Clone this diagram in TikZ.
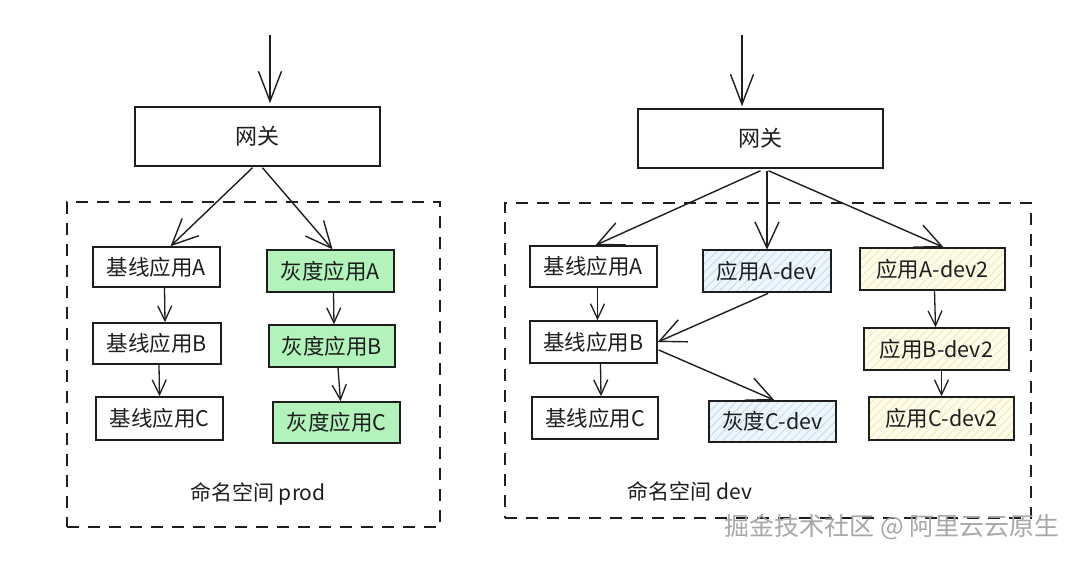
\documentclass[tikz,border=0pt]{standalone}
\usepackage{fontspec}
\setmainfont{Noto Sans CJK SC}
\usetikzlibrary{arrows.meta,patterns.meta,calc}
\definecolor{ink}{HTML}{1E1E1E}
\definecolor{greenfill}{HTML}{B2F2BB}
\definecolor{bluebg}{HTML}{EEF6FC}
\definecolor{bluehatch}{HTML}{BDDBF0}
\definecolor{yellowbg}{HTML}{FDFBEA}
\definecolor{yellowhatch}{HTML}{F1E7B4}
\definecolor{wmark}{HTML}{A8A8A8}
\tikzset{
  box/.style={draw=ink, line width=1.5pt, inner sep=0pt, font=\fontsize{21.5}{25}\selectfont, text=ink},
  greenbox/.style={box, fill=greenfill},
  bluebox/.style={box, preaction={fill=bluebg}, pattern={Lines[angle=45,distance=6pt,line width=0.8pt]}, pattern color=bluehatch},
  yellowbox/.style={box, preaction={fill=yellowbg}, pattern={Lines[angle=45,distance=6pt,line width=0.8pt]}, pattern color=yellowhatch},
  arr/.style={draw=ink, line width=1.3pt, -{Straight Barb[length=15pt,width=14pt]}},
  midarr/.style={draw=ink, line width=1.4pt, -{Straight Barb[length=26pt,width=24pt]}},
  bigarr/.style={draw=ink, line width=1.4pt, -{Straight Barb[length=30pt,width=23pt]}},
  nsframe/.style={draw=ink, line width=1.5pt, dash pattern=on 12pt off 9pt},
  nslabel/.style={font=\fontsize{21}{25}\selectfont, text=ink},
}
\begin{document}
\begin{tikzpicture}[x=1pt,y=-1pt]
\fill[white] (0,0) rectangle (1080,561);
\useasboundingbox (0,0) rectangle (1080,561);

% ---------- left: prod ----------
\node[nsframe, minimum width=373pt, minimum height=325pt, inner sep=0pt] (nsL) at (253.5,364.5) {};
\node[box, font=\fontsize{22}{26}\selectfont, minimum width=245pt, minimum height=59pt] (gwL) at (257.5,136.5) {网关};
\node[box, minimum width=127pt, minimum height=40pt] (baseAL) at (156.5,267) {基线应用A};
\node[greenbox, minimum width=127pt, minimum height=42pt] (grayAL) at (330.5,271) {灰度应用A};
\node[box, minimum width=128pt, minimum height=41pt] (baseBL) at (157,343.5) {基线应用B};
\node[greenbox, minimum width=126pt, minimum height=42pt] (grayBL) at (332,346) {灰度应用B};
\node[box, minimum width=127pt, minimum height=43pt] (baseCL) at (159.5,418.5) {基线应用C};
\node[greenbox, minimum width=127pt, minimum height=41pt] (grayCL) at (336.5,422.5) {灰度应用C};
\node[nslabel] (labL) at (258,494) {命名空间 prod};

\coordinate (inL) at (270,35);
\draw[bigarr] (inL) -- ($(inL |- gwL.north)+(0,-3)$);
\draw[midarr] ($(gwL.south)+(-5,1)$) -- ($(baseAL.north)+(14,0)$);
\draw[midarr] ($(gwL.south)+(5,1)$) -- ($(grayAL.north)+(2,0)$);
\draw[arr] ($(baseAL.south)+(8,0)$) -- ($(baseBL.north)+(8,0)$);
\draw[arr] ($(grayAL.south)+(3,0)$) -- ($(grayBL.north)+(2,0)$);
\draw[arr] ($(baseBL.south)+(2,0)$) -- ($(baseCL.north)+(0,0)$);
\draw[arr] ($(grayBL.south)+(6,0)$) -- ($(grayCL.north)+(4,0)$);

% ---------- right: dev ----------
\node[nsframe, minimum width=526pt, minimum height=315pt, inner sep=0pt] (nsR) at (768,360.5) {};
\node[box, font=\fontsize{22}{26}\selectfont, minimum width=245pt, minimum height=59pt] (gwR) at (760.5,138.5) {网关};
\node[box, minimum width=127pt, minimum height=41pt] (baseAR) at (593.5,266.5) {基线应用A};
\node[bluebox, minimum width=128pt, minimum height=42pt] (devA) at (767,271) {应用A-dev};
\node[yellowbox, minimum width=145pt, minimum height=42pt] (dtwoA) at (932.5,269) {应用A-dev2};
\node[box, minimum width=127pt, minimum height=42pt] (baseBR) at (593.5,342) {基线应用B};
\node[yellowbox, minimum width=145pt, minimum height=42pt] (dtwoB) at (936.5,349) {应用B-dev2};
\node[box, minimum width=126pt, minimum height=42pt] (baseCR) at (595,418) {基线应用C};
\node[bluebox, minimum width=127pt, minimum height=41pt] (grayCdev) at (772.5,421.5) {灰度C-dev};
\node[yellowbox, minimum width=145pt, minimum height=43pt] (dtwoC) at (941.5,418.5) {应用C-dev2};
\node[nslabel] (labR) at (690,491) {命名空间 dev};

\coordinate (inR) at (742,35);
\draw[bigarr] (inR) -- ($(inR |- gwR.north)+(0,-2)$);
\draw[midarr] ($(gwR.south)+(0,2)$) -- ($(baseAR.north)+(2,0)$);
\draw[midarr] ($(gwR.south)+(6.5,2)$) -- (devA.north);
\draw[midarr] ($(gwR.south)+(8,2)$) -- ($(dtwoA.north)+(11,0)$);
\draw[arr] ($(baseAR.south)+(4,0)$) -- ($(baseBR.north)+(4,0)$);
\draw[arr] ($(baseBR.south)+(7,0)$) -- ($(baseCR.north)+(6,0)$);
\draw[midarr] ($(devA.south)+(1,1)$) -- (baseBR.east);
\draw[midarr] ($(baseBR.east)+(1,8)$) -- ($(grayCdev.north)+(2,0)$);
\draw[arr] ($(dtwoA.south)+(2,0)$) -- ($(dtwoB.north)+(-1,0)$);
\draw[arr] ($(dtwoB.south)+(5,0)$) -- ($(dtwoC.north)+(0,0)$);

% ---------- watermark ----------
\node[font=\fontsize{25}{29}\selectfont, text=wmark, anchor=east] (wm) at (1063,527) {掘金技术社区 @ 阿里云云原生};
\end{tikzpicture}
\end{document}
